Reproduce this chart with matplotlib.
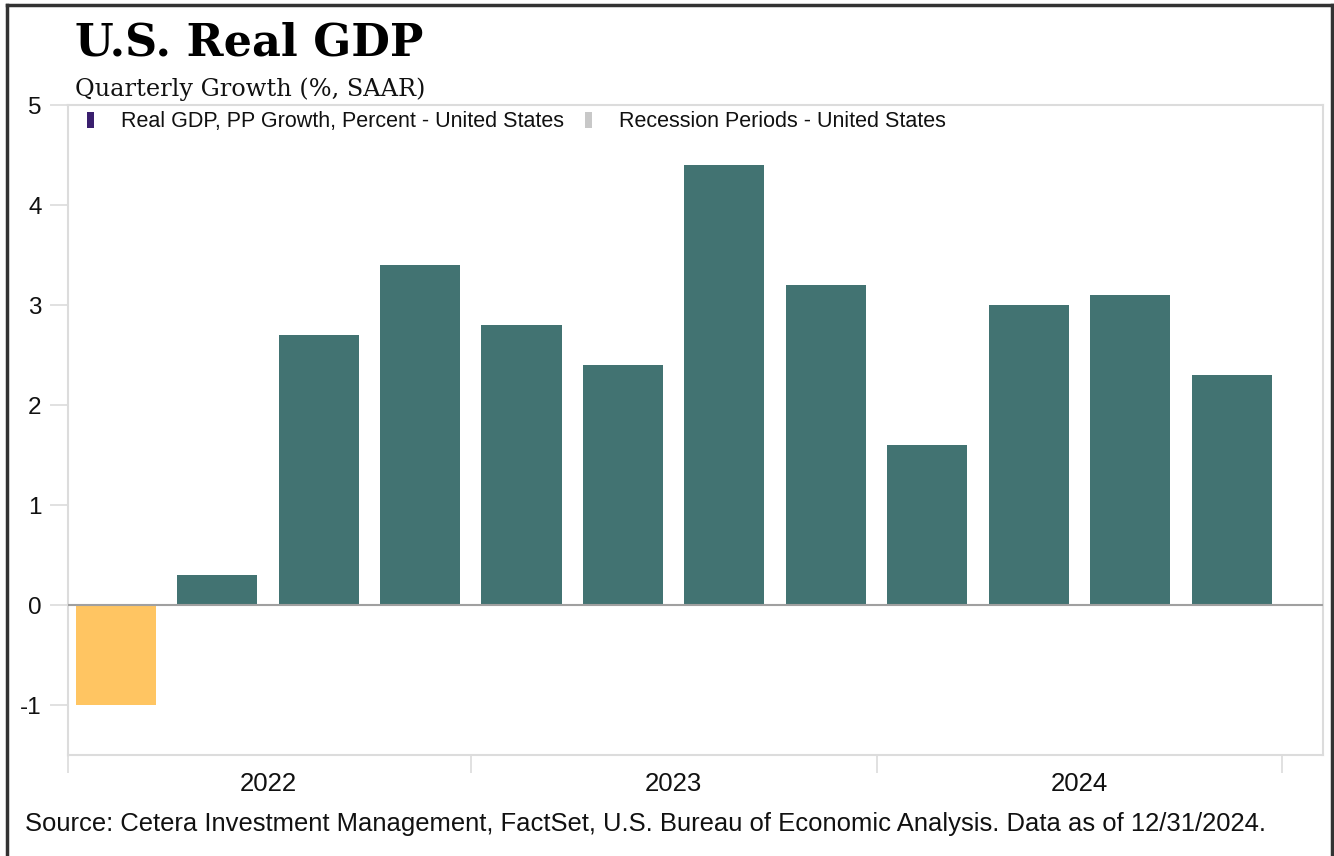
import matplotlib
matplotlib.use("Agg")
import matplotlib.pyplot as plt
from matplotlib.patches import Patch
from matplotlib.lines import Line2D

quarters = ["2022Q1", "2022Q2", "2022Q3", "2022Q4",
            "2023Q1", "2023Q2", "2023Q3", "2023Q4",
            "2024Q1", "2024Q2", "2024Q3", "2024Q4"]
gdp_growth = [-1.0, 0.3, 2.7, 3.4, 2.8, 2.4, 4.4, 3.2, 1.6, 3.0, 3.1, 2.3]
recession_flag = [True, False, False, False, False, False, False, False, False, False, False, False]
years = ["2022", "2023", "2024"]
y_ticks = [-1, 0, 1, 2, 3, 4, 5]

TEAL = "#427372"
ORANGE = "#FFC562"
PURPLE = "#3A1F6E"
REC_GRAY = "#C8C8C8"
FRAME = "#DCDCDC"
TXT = "#111111"

W, H = 1334, 856
fig = plt.figure(figsize=(W / 100, H / 100), dpi=100)

def fx(x):
    return x / W

def fy(y):
    return 1 - y / H

ax = fig.add_axes([fx(68), fy(755), fx(1323) - fx(68), fy(105) - fy(755)])

x = list(range(len(quarters)))
colors = [ORANGE if r else TEAL for r in recession_flag]
ax.bar(x, gdp_growth, width=0.79, color=colors, zorder=2)
ax.axhline(0, color="#A0A0A0", lw=1.5, zorder=3)

x_left = -0.47
ax.set_xlim(x_left, 11.9)
ax.set_ylim(-1.5, 5)

ax.set_yticks(y_ticks)
ax.set_yticklabels([str(v) for v in y_ticks])
ax.tick_params(axis="y", length=13, width=1.2, color=FRAME, labelsize=17.5,
               labelcolor=TXT, pad=6)
for lbl in ax.get_yticklabels():
    lbl.set_fontfamily("Liberation Sans")

n_years = len(years)
ax.set_xticks([x_left] + [3.5 + 4 * i for i in range(n_years)])
ax.set_xticklabels([])
ax.set_xticks([1.5 + 4 * i for i in range(n_years)], minor=True)
ax.set_xticklabels(years, minor=True, fontfamily="Liberation Sans", fontsize=18.5, color=TXT)
ax.tick_params(axis="x", which="major", length=13, width=1.2, color=FRAME)
ax.tick_params(axis="x", which="minor", length=0, pad=12)

for s in ax.spines.values():
    s.set_color(FRAME)
    s.set_linewidth(1.5)

handles = [Patch(facecolor=PURPLE, edgecolor="none"),
           Patch(facecolor=REC_GRAY, edgecolor="none")]
labels = ["Real GDP, PP Growth, Percent - United States",
          "Recession Periods - United States"]
leg = ax.legend(handles, labels, loc="upper left", bbox_to_anchor=(0.0, 1.02),
                ncol=2, frameon=False, handlelength=0.33, handleheight=0.75,
                handletextpad=1.25, columnspacing=0.95,
                prop={"family": "Liberation Sans", "size": 15.5})
for t in leg.get_texts():
    t.set_color(TXT)

fig.text(fx(75), fy(55), "U.S. Real GDP", fontfamily="DejaVu Serif", fontweight="bold",
         fontsize=32, color="#000000", ha="left", va="baseline")
fig.text(fx(75), fy(96), "Quarterly Growth (%, SAAR)", fontfamily="DejaVu Serif",
         fontsize=17.3, color=TXT, ha="left", va="baseline")
fig.text(fx(25), fy(831),
         "Source: Cetera Investment Management, FactSet, U.S. Bureau of Economic Analysis. Data as of 12/31/2024.",
         fontfamily="Liberation Sans", fontsize=18.45, color=TXT, ha="left", va="baseline")

# outer frame
for coords in [([fx(7), fx(7)], [fy(5), fy(856)]),
               ([fx(7), fx(1332)], [fy(5), fy(5)]),
               ([fx(1332), fx(1332)], [fy(5), fy(856)])]:
    fig.add_artist(Line2D(coords[0], coords[1], color="#333333", lw=2.5))

fig.savefig("out.png", dpi=100)
